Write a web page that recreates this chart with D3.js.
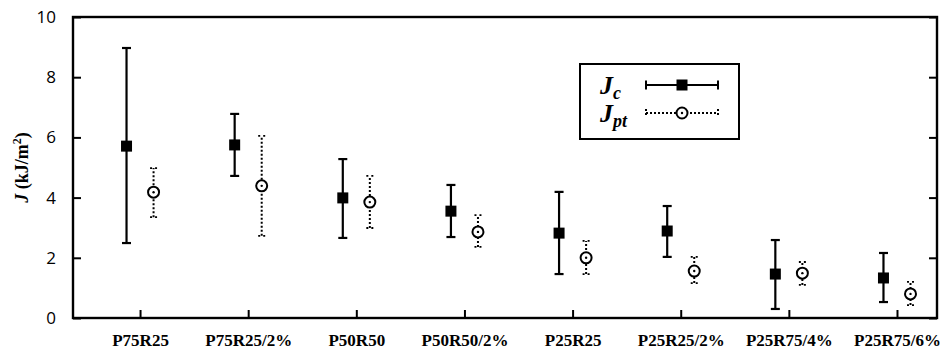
<!DOCTYPE html>
<html><head><meta charset="utf-8">
<script src="https://cdn.jsdelivr.net/npm/d3@7"></script>
<style>body{margin:0;background:#fff}svg{display:block}</style>
</head><body>
<svg id="c" width="949" height="356"></svg>
<script>
const categories = ["P75R25","P75R25/2%","P50R50","P50R50/2%","P25R25","P25R25/2%","P25R75/4%","P25R75/6%"];
const jcMean = [5.71, 5.75, 3.99, 3.55, 2.82, 2.89, 1.46, 1.33];
const jcHigh = [8.97, 6.78, 5.28, 4.42, 4.19, 3.72, 2.59, 2.16];
const jcLow  = [2.49, 4.72, 2.66, 2.69, 1.46, 2.03, 0.30, 0.53];
const jptMean = [4.18, 4.39, 3.85, 2.86, 2.00, 1.56, 1.49, 0.80];
const jptHigh = [4.98, 6.05, 4.72, 3.42, 2.56, 2.03, 1.86, 1.20];
const jptLow  = [3.35, 2.73, 2.99, 2.36, 1.46, 1.16, 1.10, 0.43];
const yTicks = [0, 2, 4, 6, 8, 10];

const svg = d3.select("#c");
const L = 73, R = 937, T = 17, B = 318;
const x = d3.scaleLinear().domain([0.38, 8.37]).range([L, R]);
const y = d3.scaleLinear().domain([0, 10]).range([B, T]);
const off = 0.125;

// axes with inward ticks
const gL = svg.append("g").attr("transform", `translate(${L},0)`)
  .call(d3.axisLeft(y).tickValues(yTicks).tickSizeInner(-8).tickSizeOuter(0).tickPadding(17).tickFormat(d3.format("d")));
const gR = svg.append("g").attr("transform", `translate(${R},0)`)
  .call(d3.axisRight(y).tickValues(yTicks).tickSizeInner(-8).tickSizeOuter(0).tickFormat(""));
const gB = svg.append("g").attr("transform", `translate(0,${B})`)
  .call(d3.axisBottom(x).tickValues(d3.range(1, 9)).tickSizeInner(-8).tickSizeOuter(0).tickPadding(16)
    .tickFormat((d, i) => categories[i]));
[gL, gR, gB].forEach(g => {
  g.select(".domain").remove();
  g.selectAll(".tick line").attr("stroke", "#000").attr("stroke-width", 2);
});
gL.selectAll(".tick text").attr("font-family", "'Open Sans', sans-serif").attr("font-size", 17).attr("fill", "#000");
gB.selectAll(".tick text").attr("font-family", "'Liberation Serif', 'Times New Roman', serif")
  .attr("font-weight", "bold").attr("font-size", 17).attr("fill", "#000");

svg.append("rect").attr("x", L).attr("y", T).attr("width", R - L).attr("height", B - T)
  .attr("fill", "none").attr("stroke", "#000").attr("stroke-width", 2.4);

// y label
const yl = svg.append("text").attr("transform", `translate(28,${(T + B) / 2}) rotate(-90)`)
  .attr("text-anchor", "middle").attr("font-family", "'Liberation Serif', serif")
  .attr("font-weight", "bold").attr("font-size", 18);
yl.append("tspan").attr("font-style", "italic").text("J");
yl.append("tspan").text(" (kJ/m");
yl.append("tspan").attr("font-size", 12).attr("dy", -7).text("2");
yl.append("tspan").attr("dy", 7).text(")");

// Jc error bars
const idx = d3.range(categories.length);
const gc = svg.append("g");
gc.selectAll("line.v").data(idx).join("line")
  .attr("x1", i => x(i + 1 - off)).attr("x2", i => x(i + 1 - off))
  .attr("y1", i => y(jcLow[i])).attr("y2", i => y(jcHigh[i]))
  .attr("stroke", "#000").attr("stroke-width", 2.2);
[jcLow, jcHigh].forEach(arr => {
  gc.selectAll(null).data(idx).join("line")
    .attr("x1", i => x(i + 1 - off) - 4.5).attr("x2", i => x(i + 1 - off) + 4.5)
    .attr("y1", i => y(arr[i])).attr("y2", i => y(arr[i]))
    .attr("stroke", "#000").attr("stroke-width", 2.2);
});
gc.selectAll("rect").data(idx).join("rect")
  .attr("x", i => x(i + 1 - off) - 5.5).attr("y", i => y(jcMean[i]) - 5.5)
  .attr("width", 11).attr("height", 11).attr("fill", "#000");

// Jpt error bars
const gp = svg.append("g");
gp.selectAll("line.v").data(idx).join("line")
  .attr("x1", i => x(i + 1 + off)).attr("x2", i => x(i + 1 + off))
  .attr("y1", i => y(jptLow[i])).attr("y2", i => y(jptHigh[i]))
  .attr("stroke", "#000").attr("stroke-width", 2).attr("stroke-dasharray", "2,2");
[jptLow, jptHigh].forEach(arr => {
  gp.selectAll(null).data(idx).join("line")
    .attr("x1", i => x(i + 1 + off) - 3.5).attr("x2", i => x(i + 1 + off) + 3.5)
    .attr("y1", i => y(arr[i])).attr("y2", i => y(arr[i]))
    .attr("stroke", "#000").attr("stroke-width", 1.8).attr("stroke-dasharray", "2,3");
});
gp.selectAll("circle.o").data(idx).join("circle")
  .attr("cx", i => x(i + 1 + off)).attr("cy", i => y(jptMean[i])).attr("r", 5.5)
  .attr("fill", "#fff").attr("stroke", "#000").attr("stroke-width", 2);
gp.selectAll("circle.d").data(idx).join("circle")
  .attr("cx", i => x(i + 1 + off)).attr("cy", i => y(jptMean[i])).attr("r", 1.2).attr("fill", "#000");

// legend
const lg = svg.append("g");
lg.append("rect").attr("x", 580).attr("y", 64).attr("width", 159).attr("height", 75)
  .attr("fill", "#fff").attr("stroke", "#000").attr("stroke-width", 2);
function lbl(yb, sub) {
  const t = lg.append("text").attr("x", 600).attr("y", yb)
    .attr("font-family", "'Liberation Serif', serif").attr("font-weight", "bold")
    .attr("font-style", "italic").attr("font-size", 26);
  t.append("tspan").text("J");
  t.append("tspan").attr("font-size", 18).attr("dy", 5).text(sub);
}
lbl(94, "c");
lbl(122, "pt");
lg.append("line").attr("x1", 646).attr("x2", 718).attr("y1", 85).attr("y2", 85).attr("stroke", "#000").attr("stroke-width", 2);
[646, 718].forEach(xx => lg.append("line").attr("x1", xx).attr("x2", xx).attr("y1", 80.5).attr("y2", 89.5).attr("stroke", "#000").attr("stroke-width", 2));
lg.append("rect").attr("x", 676.5).attr("y", 79.5).attr("width", 11).attr("height", 11).attr("fill", "#000");
lg.append("line").attr("x1", 646).attr("x2", 718).attr("y1", 113).attr("y2", 113).attr("stroke", "#000").attr("stroke-width", 2).attr("stroke-dasharray", "2,2");
[646, 718].forEach(xx => lg.append("line").attr("x1", xx).attr("x2", xx).attr("y1", 109).attr("y2", 117).attr("stroke", "#000").attr("stroke-width", 2).attr("stroke-dasharray", "2,2"));
lg.append("circle").attr("cx", 682).attr("cy", 113).attr("r", 5.5).attr("fill", "#fff").attr("stroke", "#000").attr("stroke-width", 2);
lg.append("circle").attr("cx", 682).attr("cy", 113).attr("r", 1.2).attr("fill", "#000");
</script>
</body></html>
